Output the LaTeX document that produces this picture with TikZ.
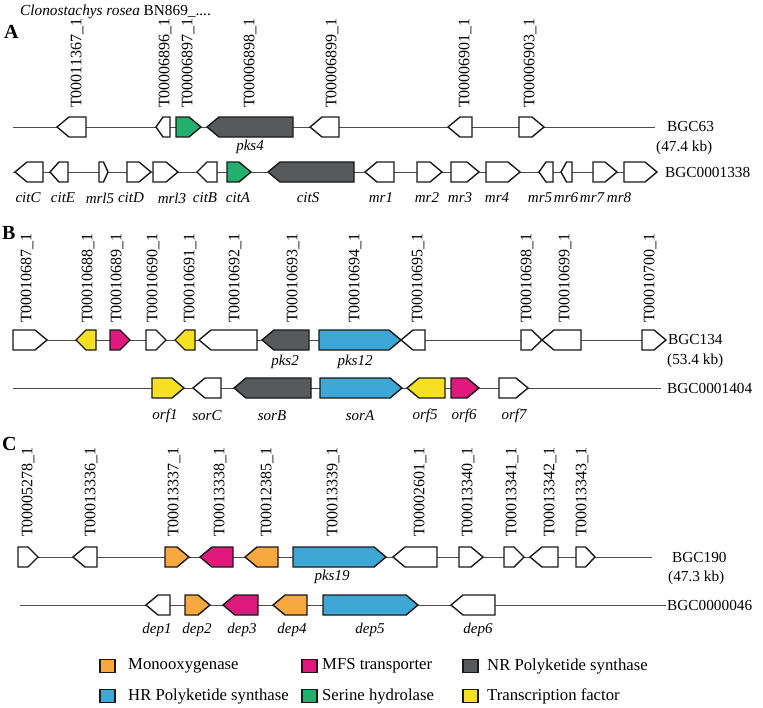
\documentclass[tikz,border=0pt]{standalone}
\usepackage{fontspec}
\setmainfont{Liberation Serif}
\usetikzlibrary{positioning}
% Gene class colours
\definecolor{monoox}{RGB}{247,168,62}
\definecolor{mfs}{RGB}{222,25,123}
\definecolor{nrpks}{RGB}{88,89,91}
\definecolor{hrpks}{RGB}{63,167,214}
\definecolor{serine}{RGB}{35,175,110}
\definecolor{tfac}{RGB}{247,224,35}
% Gene arrow: tail x, tip x, row y, fill
\newcommand*{\gene}[4]{%
  \pgfmathsetmacro{\hd}{min(12,0.5*abs(#2-#1))*sign(#2-#1)}%
  \draw[genebox,fill=#4] (#1,#3-10) -- (#2-\hd,#3-10) -- (#2,#3)
    -- (#2-\hd,#3+10) -- (#1,#3+10) -- cycle;}
\tikzset{
  txt/.style={inner sep=0pt,font=\fontsize{15.3}{18}\selectfont},
  backbone/.style={draw=black!70,line width=0.8pt},
  genebox/.style={draw=black!90,line width=1.4pt,line join=miter},
  locus/.style={inner sep=0pt,rotate=90,anchor=west,
                font=\fontsize{16}{18}\selectfont},
  genename/.style={inner sep=0pt,font=\fontsize{15}{17}\selectfont\itshape},
  cluster/.style={txt,anchor=west},
  keytext/.style={inner sep=0pt,anchor=west,font=\fontsize{16.7}{18}\selectfont},
  panel/.style={inner sep=0pt,anchor=west,font=\fontsize{20}{22}\selectfont\bfseries},
  legbox/.style={draw=black!90,line width=1.2pt,minimum width=15pt,
                 minimum height=13pt,inner sep=0pt}
}

\begin{document}
\begin{tikzpicture}[x=1pt,y=-1pt]
\useasboundingbox (0,0) rectangle (763,707);
\node[cluster] (title) at (20,12) {\textit{Clonostachys rosea} BN869\_....};
% Panel A
\node[panel] (pA) at (4,32) {A};
\draw[backbone] (13,127) -- (655,127);
\foreach \a/\b/\c in {86/57/white,170/156/white,176/201/serine,293/207/nrpks,
  339/310/white,472/448/white,519/544/white}
  \gene{\a}{\b}{127}{\c};
\foreach \x/\t [count=\i] in {77/T00011367,165/T00006896,188/T00006897,
  250/T00006898,332/T00006899,465/T00006901,530/T00006903}
  \node[locus] (la\i) at (\x,108) {\t\_1};
\node[genename] (pks4) at (250,147) {pks4};
\node[cluster] (bgc63) at (667,127) {BGC63};
\node[cluster] (kb63) at (656,148) {(47.4 kb)};
\draw[backbone] (13,172) -- (657,172);
\foreach \a/\b/\c in {43/15/white,68/50/white,99/108/white,127/151/white,
  153/178/white,217/197/white,227/251/serine,354/268/nrpks,394/365/white,
  417/442/white,451/479/white,486/520/white,553/539/white,572/561/white,
  593/617/white,624/657/white}
  \gene{\a}{\b}{172}{\c};
\foreach \x/\t [count=\i] in {28/citC,63/citE,100/mrl5,131/citD,172/mrl3,
  205/citB,238/citA,308/citS,381/mr1,427/mr2,460/mr3,497/mr4,540/mr5,
  566/mr6,592/mr7,619/mr8}
  \node[genename] (ga\i) at (\x,198) {\t};
\node[cluster] (mibigA) at (665,172) {BGC0001338};
% Panel B
\node[panel] (pB) at (2,233) {B};
\draw[backbone] (13,340) -- (642,340);
\foreach \a/\b/\c in {13/47/white,96/76/tfac,110/130/mfs,146/166/white,
  195/175/tfac,257/199/white,309/262/nrpks,319/401/hrpks,425/401/white,
  521/542/white,581/542/white,642/666/white}
  \gene{\a}{\b}{340}{\c};
\foreach \x/\t [count=\i] in {27/T00010687,88/T00010688,117/T00010689,
  153/T00010690,190/T00010691,235/T00010692,293/T00010693,355/T00010694,
  418/T00010695,527/T00010698,565/T00010699,650/T00010700}
  \node[locus] (lb\i) at (\x,323) {\t\_1};
\node[genename] (pks2) at (285,362) {pks2};
\node[genename] (pks12) at (355,362) {pks12};
\node[cluster] (bgc134) at (668,340) {BGC134};
\node[cluster] (kb134) at (667,361) {(53.4 kb)};
\draw[backbone] (13,388) -- (661,388);
\foreach \a/\b/\c in {152/184/tfac,221/193/white,311/234/nrpks,320/402/hrpks,
  445/407/tfac,451/479/mfs,499/528/white}
  \gene{\a}{\b}{388}{\c};
\foreach \x/\t [count=\i] in {165/orf1,207/sorC,272/sorB,360/sorA,425/orf5,
  464/orf6,514/orf7}
  \node[genename] (gb\i) at (\x,416) {\t};
\node[cluster] (mibigB) at (667,388) {BGC0001404};
% Panel C
\node[panel] (pC) at (2,444) {C};
\draw[backbone] (18,557) -- (652,557);
\foreach \a/\b/\c in {18/38/white,97/73/white,165/189/monoox,233/200/mfs,
  278/245/monoox,293/386/hrpks,437/393/white,459/483/white,504/524/white,
  558/530/white,576/595/white}
  \gene{\a}{\b}{557}{\c};
\foreach \x/\t [count=\i] in {28/T00005278,91/T00013336,174/T00013337,
  220/T00013338,267/T00012385,333/T00013339,420/T00002601,468/T00013340,
  512/T00013341,550/T00013342,582/T00013343}
  \node[locus] (lc\i) at (\x,537) {\t\_1};
\node[genename] (pks19) at (332,577) {pks19};
\node[cluster] (bgc190) at (672,557) {BGC190};
\node[cluster] (kb190) at (668,578) {(47.3 kb)};
\draw[backbone] (20,605) -- (666,605);
\foreach \a/\b/\c in {170/146/white,185/210/monoox,258/223/mfs,
  307/273/monoox,323/418/hrpks,495/451/white}
  \gene{\a}{\b}{605}{\c};
\foreach \x/\t [count=\i] in {157/dep1,197/dep2,242/dep3,292/dep4,370/dep5,
  478/dep6}
  \node[genename] (gc\i) at (\x,630) {\t};
\node[cluster] (mibigC) at (667,605) {BGC0000046};
% Legend
\foreach \x/\y/\c [count=\i] in {107.5/666/monoox,309.5/666/mfs,
  470.5/666/nrpks,107.5/696/hrpks,309.5/696/serine,470.5/696/tfac}
  \node[legbox,fill=\c] (key\i) at (\x,\y) {};
\node[keytext] (tmono) at (128,666) {Monooxygenase};
\node[keytext] (tmfs) at (322,666) {MFS transporter};
\node[keytext] (tnr) at (487,666) {NR Polyketide synthase};
\node[keytext] (thr) at (128,696) {HR Polyketide synthase};
\node[keytext] (tser) at (322,696) {Serine hydrolase};
\node[keytext] (ttf) at (487,696) {Transcription factor};
\end{tikzpicture}
\end{document}
